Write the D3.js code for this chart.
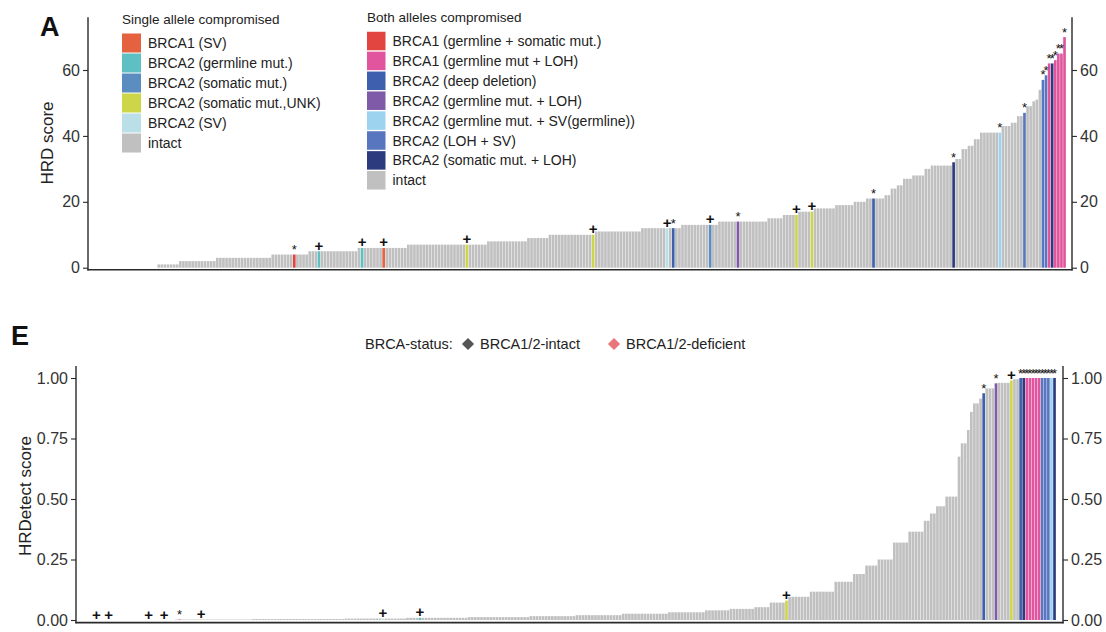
<!DOCTYPE html>
<html><head><meta charset="utf-8">
<script src="https://cdn.jsdelivr.net/npm/d3@7"></script>
<style>
body{margin:0;background:#fff;}
svg text{font-family:"Liberation Sans",Arial,Helvetica,sans-serif;}
</style></head><body>
<svg id="chart" width="1106" height="632"></svg>
<script>
// ---------- data ----------
const categoryNames = ["intact","BRCA1 (SV)","BRCA2 (germline mut.)","BRCA2 (somatic mut.)","BRCA2 (somatic mut.,UNK)","BRCA2 (SV)",
  "BRCA1 (germline + somatic mut.)","BRCA1 (germline mut + LOH)","BRCA2 (deep deletion)","BRCA2 (germline mut. + LOH)",
  "BRCA2 (germline mut. + SV(germline))","BRCA2 (LOH + SV)","BRCA2 (somatic mut. + LOH)"];
const categoryColors = ["#C0C0C0","#E4623F","#5EC0C2","#5B8DC0","#CDD648","#BBDFE6",
  "#E2453F","#E0559D","#3D5FAE","#7F5AA8","#9ED3F0","#5876BF","#2C3B7E"];
const singleLegend = ["BRCA1 (SV)","BRCA2 (germline mut.)","BRCA2 (somatic mut.)","BRCA2 (somatic mut.,UNK)","BRCA2 (SV)","intact"];
const bothLegend = ["BRCA1 (germline + somatic mut.)","BRCA1 (germline mut + LOH)","BRCA2 (deep deletion)","BRCA2 (germline mut. + LOH)",
  "BRCA2 (germline mut. + SV(germline))","BRCA2 (LOH + SV)","BRCA2 (somatic mut. + LOH)","intact"];

// Panel A: HRD score, sorted; run-length (score level, number of samples)
const hrdLevels = [0,1,2,3,4,5,6,7,8,9,10,11,12,13,14,15,16,17,18,19,20,21,22,24,25,27,28,30,31,32,33,36,37,39,41,43,44,46,47,49,50.5,51,54,57,58.4,62,63,65,70];
const hrdCounts = [22,7,12,18,12,16,16,26,13,7,15,15,13,12,16,5,5,5,7,6,4,6,2,2,2,3,4,2,7,1,2,2,2,2,7,3,2,2,1,2,1,1,1,1,1,2,1,2,1];
// BRCA-altered samples in panel A (sample rank, category, mark)
const topFlagIndex = [66,74,88,95,122,163,187,189,201,210,229,234,254,280,295,303,309,310,311,312,313,314,315,316];
const topFlagCat = ["BRCA1 (germline + somatic mut.)","BRCA2 (germline mut.)","BRCA2 (germline mut.)","BRCA1 (SV)","BRCA2 (somatic mut.,UNK)",
  "BRCA2 (somatic mut.,UNK)","BRCA2 (SV)","BRCA2 (deep deletion)","BRCA2 (somatic mut.)","BRCA2 (germline mut. + LOH)",
  "BRCA2 (somatic mut.,UNK)","BRCA2 (somatic mut.,UNK)","BRCA2 (deep deletion)","BRCA2 (somatic mut. + LOH)",
  "BRCA2 (germline mut. + SV(germline))","BRCA2 (LOH + SV)","BRCA2 (LOH + SV)","BRCA2 (LOH + SV)","BRCA1 (germline mut + LOH)",
  "BRCA2 (somatic mut. + LOH)","BRCA1 (germline mut + LOH)","BRCA1 (germline mut + LOH)","BRCA1 (germline mut + LOH)","BRCA1 (germline mut + LOH)"];
const topFlagMark = ["*","+","+","+","+","+","+","*","+","*","+","+","*","*","*","*","*","*","*","*","*","*","*","*"];

// Panel E: HRDetect score, sorted; run-length
const hrdetLevels = [0,0.002,0.004,0.006,0.009,0.012,0.016,0.020,0.026,0.032,0.040,0.046,0.053,0.072,0.08,0.096,0.117,0.158,0.19,0.225,0.25,0.32,0.365,0.41,0.44,0.47,0.51,0.675,0.73,0.785,0.86,0.895,0.915,0.937,0.957,0.978,0.98,0.99,0.995,1.0];
const hrdetCounts = [31,25,30,20,20,20,15,15,15,12,8,8,5,5,1,7,8,6,4,4,5,5,5,2,2,3,4,1,2,1,1,2,1,1,3,1,4,1,2,12];
const botFlagIndex = [5,9,22,27,32,39,98,110,229,293,297,302,305,306,307,308,309,310,311,312,313,314,315,316];
const botFlagCat = ["BRCA2 (somatic mut.,UNK)","BRCA2 (somatic mut.)","BRCA2 (germline mut.)","BRCA1 (SV)","BRCA1 (germline + somatic mut.)",
  "BRCA2 (somatic mut.,UNK)","BRCA2 (SV)","BRCA2 (germline mut.)","BRCA2 (somatic mut.,UNK)","BRCA2 (deep deletion)",
  "BRCA2 (germline mut. + LOH)","BRCA2 (somatic mut.,UNK)","BRCA2 (deep deletion)","BRCA2 (somatic mut. + LOH)",
  "BRCA1 (germline mut + LOH)","BRCA1 (germline mut + LOH)","BRCA1 (germline mut + LOH)","BRCA1 (germline mut + LOH)","BRCA1 (germline mut + LOH)",
  "BRCA2 (LOH + SV)","BRCA2 (LOH + SV)","BRCA2 (LOH + SV)","BRCA2 (germline mut. + SV(germline))","BRCA2 (somatic mut. + LOH)"];
const botFlagMark = ["+","+","+","+","*","+","+","+","+","*","*","+","*","*","*","*","*","*","*","*","*","*","*","*"];

const topTicks = [0,20,40,60];
const botTicks = [0,0.25,0.5,0.75,1.0];
const statusLabels = ["BRCA1/2-intact","BRCA1/2-deficient"];
const statusColors = ["#555555","#E8747C"];

// ---------- helpers ----------
function expand(levels, counts){const out=[];levels.forEach((v,i)=>{for(let k=0;k<counts[i];k++)out.push(v);});return out;}
const color = d3.scaleOrdinal().domain(categoryNames).range(categoryColors);
const svg = d3.select("#chart");
const INK = "#2a2a2a";

function buildRows(values, idx, cats, marks){
  const rows = values.map((v,i)=>({i, v, cat:"intact", mark:null}));
  idx.forEach((k,j)=>{rows[k].cat = cats[j]; rows[k].mark = marks[j];});
  return rows;
}

function panel(rows, cfg){
  const x = d3.scaleBand().domain(rows.map(d=>d.i)).range(cfg.barRange).paddingInner(0.14).paddingOuter(0.05);
  const y = d3.scaleLinear().domain(cfg.yDomain).range(cfg.yRange);
  const g = svg.append("g");
  const ordered = rows.filter(d=>d.cat==="intact").concat(rows.filter(d=>d.cat!=="intact"));
  g.selectAll("rect.bar").data(ordered).join("rect").attr("class","bar")
    .attr("x",d=>x(d.i)).attr("width",x.bandwidth())
    .attr("y",d=>y(d.v)).attr("height",d=>Math.max(0,y(0)-y(d.v)))
    .attr("fill",d=>color(d.cat));
  g.selectAll("text.mark").data(rows.filter(d=>d.mark)).join("text").attr("class","mark")
    .attr("x",d=>x(d.i)+x.bandwidth()/2).attr("y",d=>y(d.v)-0.5)
    .attr("text-anchor","middle").attr("font-size",d=>d.mark==="+"?15:13)
    .attr("font-weight",d=>d.mark==="+"?"bold":"normal").attr("fill","#111")
    .text(d=>d.mark);
  const al = g.append("g").attr("transform",`translate(${cfg.left},0)`)
    .call(d3.axisLeft(y).tickValues(cfg.ticks).tickFormat(cfg.fmt).tickSize(5).tickPadding(3));
  const ar = g.append("g").attr("transform",`translate(${cfg.right},0)`)
    .call(d3.axisRight(y).tickValues(cfg.ticks).tickFormat(cfg.fmt).tickSize(5).tickPadding(3));
  [al,ar].forEach(a=>{
    a.select(".domain").remove();
    a.selectAll(".tick line").attr("stroke",INK).attr("stroke-width",1.1);
    a.selectAll(".tick text").attr("fill","#333").attr("font-size",16)
      .style("font-family",'"Liberation Sans",Arial,sans-serif');
  });
  const top = y(cfg.yDomain[1]);
  g.append("line").attr("x1",cfg.left).attr("x2",cfg.left).attr("y1",top).attr("y2",cfg.base+0.7).attr("stroke",INK).attr("stroke-width",1.4);
  g.append("line").attr("x1",cfg.right).attr("x2",cfg.right).attr("y1",top).attr("y2",cfg.base+0.7).attr("stroke",INK).attr("stroke-width",1.4);
  g.append("line").attr("x1",cfg.left-0.7).attr("x2",cfg.right+0.7).attr("y1",cfg.base).attr("y2",cfg.base).attr("stroke",INK).attr("stroke-width",1.6);
  g.append("text").attr("transform",`translate(${cfg.titleX},${cfg.titleY}) rotate(-90)`)
    .attr("text-anchor","middle").attr("dy","0.35em").attr("font-size",17).attr("fill","#222").text(cfg.title);
}

// ---------- Panel A ----------
const hrd = expand(hrdLevels, hrdCounts);
panel(buildRows(hrd, topFlagIndex, topFlagCat, topFlagMark), {
  barRange:[89.5,1066], yDomain:[0,76], yRange:[267.7,17.3], left:88, right:1072, base:269.8,
  ticks:topTicks, fmt:d3.format("d"), title:"HRD score", titleX:47, titleY:143
});
svg.append("text").attr("x",40).attr("y",36).attr("font-size",27).attr("font-weight","bold").attr("fill","#111").text("A");

function legend(x0, titleY, firstY, step, title, items, sw){
  const g = svg.append("g");
  g.append("text").attr("x",x0).attr("y",titleY).attr("font-size",13.5).attr("fill","#222").text(title);
  const r = g.selectAll("g.item").data(items).join("g").attr("class","item")
    .attr("transform",(d,i)=>`translate(${x0},${firstY+i*step})`);
  r.append("rect").attr("x",0).attr("y",-sw/2).attr("width",sw).attr("height",sw).attr("fill",d=>color(d));
  r.append("text").attr("x",sw+7).attr("y",0).attr("dy","0.36em").attr("font-size",14).attr("fill","#222").text(d=>d);
}
legend(122, 24, 43, 20, "Single allele compromised", singleLegend, 19);
legend(367, 22, 41, 19.9, "Both alleles compromised", bothLegend, 18.5);

// ---------- Panel E ----------
const hrdet = expand(hrdetLevels, hrdetCounts);
panel(buildRows(hrdet, botFlagIndex, botFlagCat, botFlagMark), {
  barRange:[79.5,1056], yDomain:[0,1.05], yRange:[620,365.9], left:76, right:1063, base:622.6,
  ticks:botTicks, fmt:d3.format(".2f"), title:"HRDetect score", titleX:25, titleY:496
});
svg.append("text").attr("x",11).attr("y",345).attr("font-size",27).attr("font-weight","bold").attr("fill","#111").text("E");

const lg = svg.append("g");
lg.append("text").attr("x",365).attr("y",344).attr("dy","0.36em").attr("font-size",14.5).attr("fill","#222").text("BRCA-status:");
const sym = d3.symbol().type(d3.symbolDiamond2).size(95);
const stX = [468,614];
statusLabels.forEach((s,i)=>{
  lg.append("path").attr("d",sym()).attr("transform",`translate(${stX[i]},344)`).attr("fill",statusColors[i]);
  lg.append("text").attr("x",stX[i]+12).attr("y",344).attr("dy","0.36em").attr("font-size",14.5).attr("fill","#222").text(s);
});
</script></body></html>
